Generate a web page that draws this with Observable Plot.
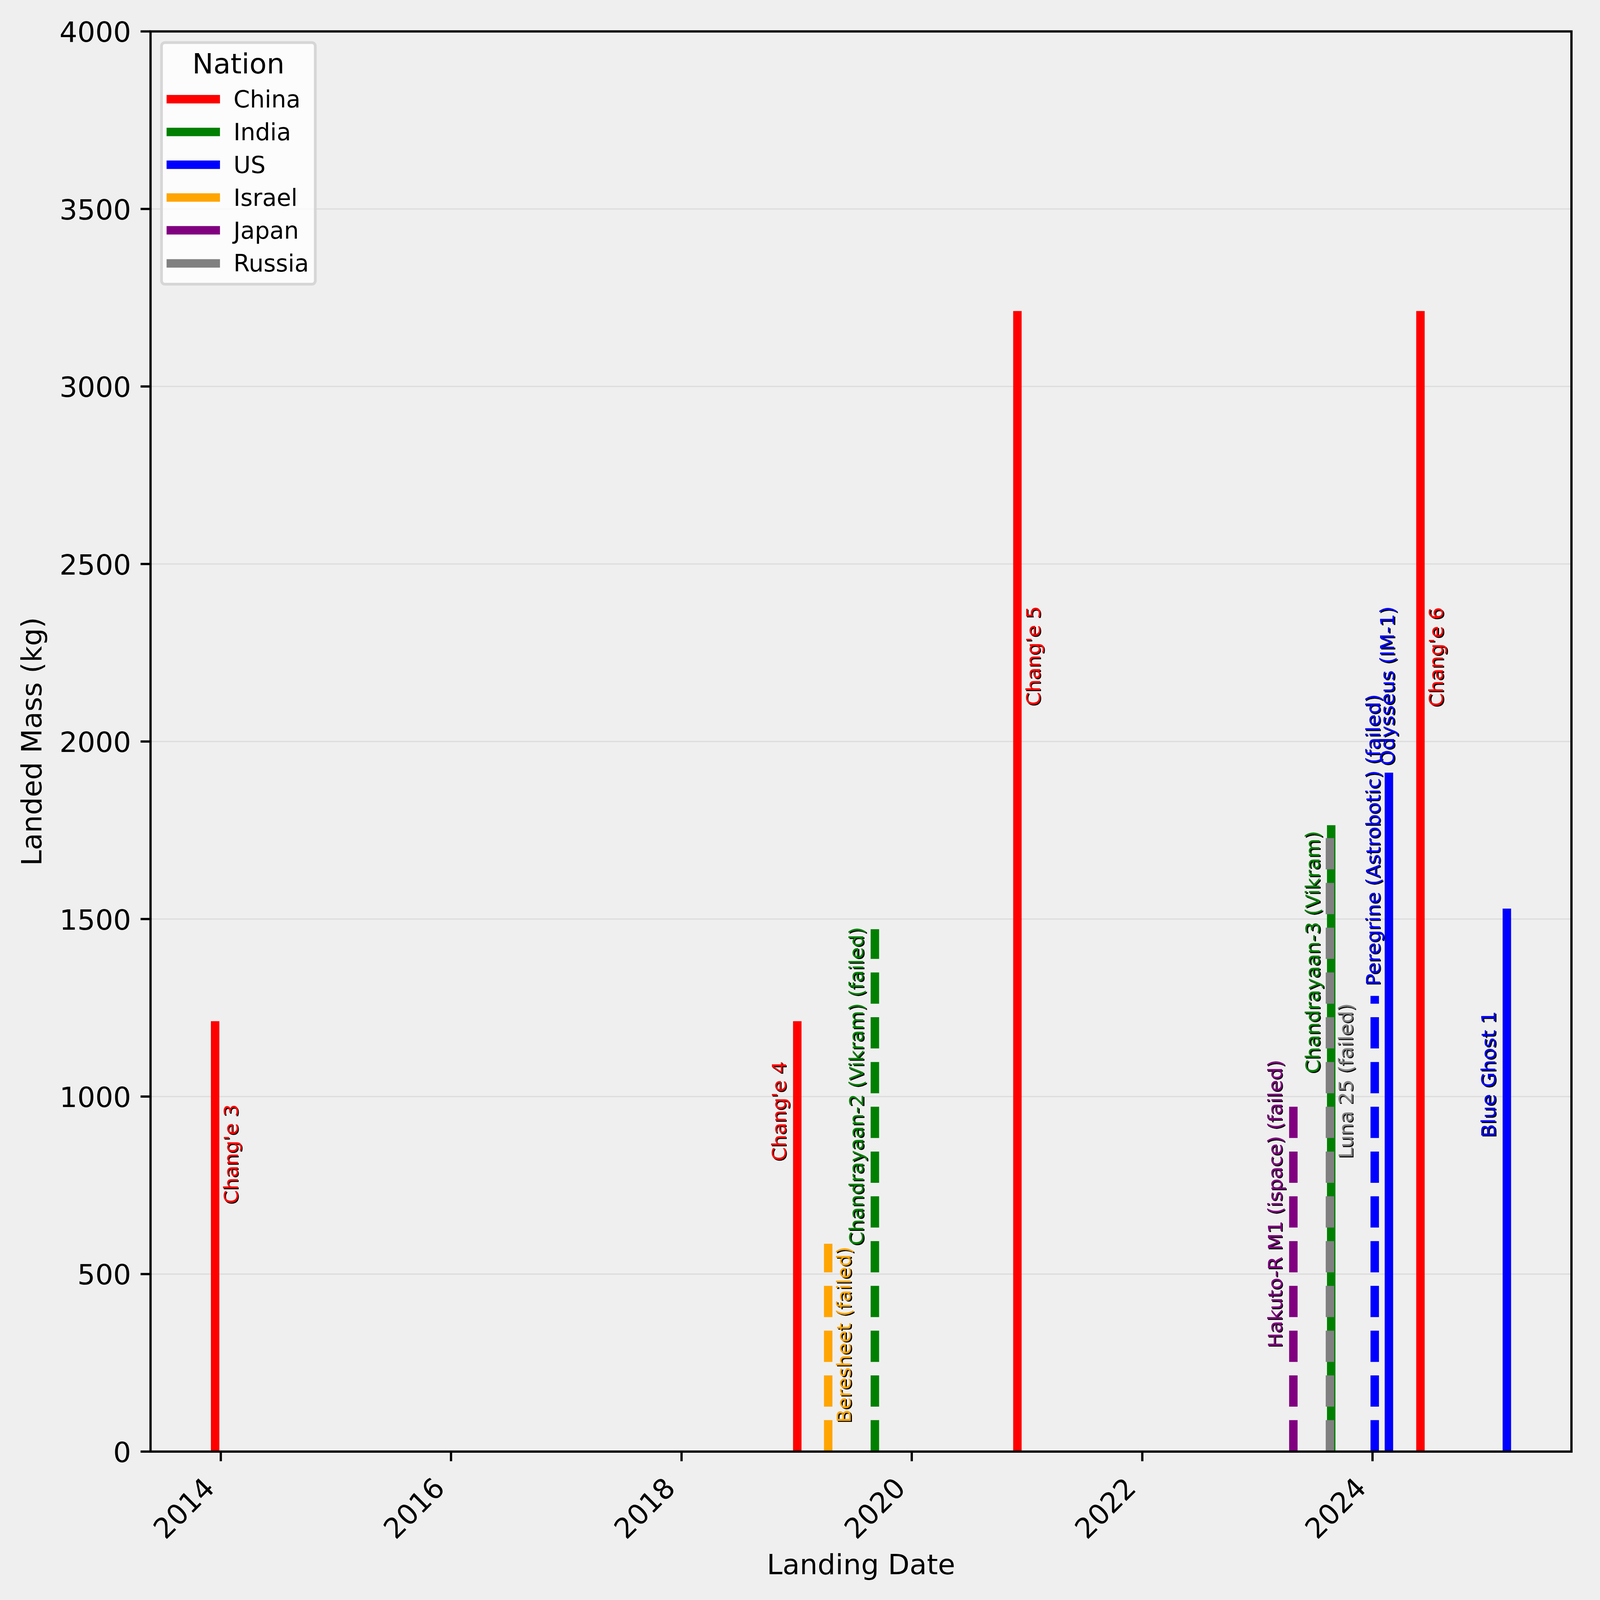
<!DOCTYPE html>
<html>
<head>
<meta charset="utf-8">
<script src="https://cdn.jsdelivr.net/npm/d3@7"></script>
<script src="https://cdn.jsdelivr.net/npm/@observablehq/plot@0.6"></script>
<style>
html, body { margin: 0; padding: 0; background: #efefef; overflow: hidden; }
#wrap { position: absolute; left: 0; top: 0; width: 4713px; height: 4735px; font-family: "DejaVu Sans", sans-serif; color: #000; transform-origin: 0 0; }
#wrap svg { display: block; max-width: none !important; }
.lg-box { position: absolute; box-sizing: border-box; border: 8px solid rgba(204,204,204,0.8); border-radius: 14px; background: rgba(255,255,255,0.8); }
.lg-abs { position: absolute; white-space: nowrap; }
</style>
</head>
<body>
<div id="wrap"></div>
<script>
// ---- data ----
const missions = ["Chang'e 3", "Chang'e 4", "Beresheet", "Chandrayaan-2 (Vikram)", "Chang'e 5",
  "Hakuto-R M1 (ispace)", "Luna 25", "Chandrayaan-3 (Vikram)", "Peregrine (Astrobotic)",
  "Odysseus (IM-1)", "Chang'e 6", "Blue Ghost 1"];
const nations = ["China", "China", "Israel", "India", "China", "Japan", "Russia", "India", "US", "US", "China", "US"];
const landingDates = ["2013-12-14", "2019-01-03", "2019-04-11", "2019-09-06", "2020-12-01", "2023-04-25",
  "2023-08-19", "2023-08-23", "2024-01-08", "2024-02-22", "2024-06-01", "2025-03-02"];
const landedMass = [1200, 1200, 585, 1471, 3200, 1000, 1750, 1752, 1283, 1900, 3200, 1517];
const failedFlag = [false, false, true, true, false, true, true, false, true, false, false, false];
// annotation anchors (kg) and side of the line where each label sits
const labelKg = [698, 819, 81, 581, 2101, 293, 826, 1066, 1313, 1933, 2098, 885];
const labelSide = ["right", "left", "right", "left", "right", "left", "right", "left", "top", "top", "right", "left"];

const nationOrder = ["China", "India", "US", "Israel", "Japan", "Russia"];
const nationColors = ["red", "green", "blue", "orange", "purple", "gray"];
const yTicks = [0, 500, 1000, 1500, 2000, 2500, 3000, 3500, 4000];
const xTickYears = [2014, 2016, 2018, 2020, 2022, 2024];

// ---- build table ----
const rows = missions.map((m, i) => ({
  mission: m,
  nation: nations[i],
  date: new Date(landingDates[i] + "T00:00:00Z"),
  mass: landedMass[i],
  failed: failedFlag[i],
  label: m + (failedFlag[i] ? " (failed)" : ""),
  labelKg: labelKg[i],
  side: labelSide[i]
}));
const ext = d3.extent(rows, d => d.date);
const pad = (ext[1] - ext[0]) * 0.05;
const xDomain = [new Date(+ext[0] - pad), new Date(+ext[1] + pad)];
const xTickDates = xTickYears.map(y => new Date(Date.UTC(y, 0, 1)));

const W = 4713, H = 4735;
const mL = 445, mR = 63, mT = 92.5, mB = 439.7;
const tickFont = 83.3, labelFont = 58.3;
const sideDx = {left: -34, right: 67, top: 15.5};

const labelMarks = [];
for (const s of ["left", "right", "top"]) {
  labelMarks.push(Plot.text(rows, {
    filter: d => d.side === s, x: "date", y: "labelKg", text: "label",
    rotate: -90, textAnchor: "start", lineAnchor: "bottom", fontSize: labelFont,
    fill: "black", dx: sideDx[s] + 3, dy: 3
  }));
  labelMarks.push(Plot.text(rows, {
    filter: d => d.side === s, x: "date", y: "labelKg", text: "label",
    rotate: -90, textAnchor: "start", lineAnchor: "bottom", fontSize: labelFont,
    fill: "nation", dx: sideDx[s], dy: 0
  }));
}

const chart = Plot.plot({
  width: W, height: H,
  marginLeft: mL, marginRight: mR, marginTop: mT, marginBottom: mB,
  style: {background: "#efefef", fontFamily: "DejaVu Sans", color: "black", overflow: "visible"},
  x: {type: "utc", domain: xDomain, axis: null, label: null},
  y: {domain: [0, 4000], axis: null, label: null},
  color: {domain: nationOrder, range: nationColors},
  marks: [
    Plot.ruleY(yTicks, {y: d => d, stroke: "#b0b0b0", strokeOpacity: 0.3, strokeWidth: 3.5}),
    Plot.ruleX(rows, {filter: d => !d.failed, x: "date", y1: 0, y2: "mass", stroke: "nation",
      strokeWidth: 25, strokeLinecap: "square", clip: true}),
    Plot.ruleX(rows, {filter: d => d.failed, x: "date", y1: 0, y2: "mass", stroke: "nation",
      strokeWidth: 25, strokeLinecap: "butt", strokeDasharray: "92.5,40", clip: true}),
    ...labelMarks,
    Plot.axisY({ticks: yTicks, tickSize: 29, tickFormat: () => "", strokeWidth: 6.7, label: null}),
    Plot.text(yTicks, {y: d => d, text: d => String(d), frameAnchor: "left", dx: -57.5, dy: 31,
      textAnchor: "end", lineAnchor: "bottom", fontSize: tickFont, fill: "black"}),
    Plot.axisX({ticks: xTickDates, tickSize: 29, tickFormat: () => "", strokeWidth: 6.7, label: null}),
    Plot.text(xTickDates, {x: d => d, text: d => String(d.getUTCFullYear()), frameAnchor: "bottom",
      dx: -14, dy: 113, rotate: -45, textAnchor: "end", lineAnchor: "bottom", fontSize: tickFont, fill: "black"}),
    Plot.text(["Landed Mass (kg)"], {text: d => d, frameAnchor: "left", dx: -323, rotate: -90,
      textAnchor: "middle", lineAnchor: "bottom", fontSize: tickFont, fill: "black"}),
    Plot.text(["Landing Date"], {text: d => d, frameAnchor: "bottom", dy: 362.7,
      textAnchor: "middle", lineAnchor: "bottom", fontSize: tickFont, fill: "black"}),
    Plot.frame({stroke: "black", strokeWidth: 6.7})
  ]
});

const wrap = document.getElementById("wrap");
wrap.appendChild(chart);

// ---- legend (upper left, inside axes) ----
const lgLeft = 474, lgTop = 122, lgW = 463, lgH = 723;
const box = document.createElement("div");
box.className = "lg-box";
Object.assign(box.style, {left: lgLeft + "px", top: lgTop + "px", width: lgW + "px", height: lgH + "px"});
wrap.appendChild(box);

const asc = 0.928, lh = 1.164;
const title = document.createElement("div");
title.className = "lg-abs";
title.textContent = "Nation";
Object.assign(title.style, {left: lgLeft + "px", width: lgW + "px", textAlign: "center",
  fontSize: tickFont + "px", lineHeight: (tickFont * lh) + "px", top: (218 - asc * tickFont) + "px"});
wrap.appendChild(title);

const entryFont = 69.4, entry0 = 293, entryStep = 97.2;
nationOrder.forEach((n, i) => {
  const cy = entry0 + i * entryStep;
  const sw = document.createElement("div");
  sw.className = "lg-abs";
  Object.assign(sw.style, {left: "493px", width: "158px", height: "25px", top: (cy - 12.5) + "px",
    background: nationColors[i]});
  wrap.appendChild(sw);
  const tx = document.createElement("div");
  tx.className = "lg-abs";
  tx.textContent = n;
  Object.assign(tx.style, {left: "691px", fontSize: entryFont + "px", lineHeight: (entryFont * lh) + "px",
    top: (cy + 25 - asc * entryFont) + "px"});
  wrap.appendChild(tx);
});

// fit the 4713x4735 drawing into the actual viewport
function fit() {
  const vw = document.documentElement.clientWidth || window.innerWidth;
  const vh = document.documentElement.clientHeight || window.innerHeight;
  const s = Math.min(vw / W, vh / H);
  wrap.style.transform = Math.abs(s - 1) < 1e-3 ? "none" : `scale(${s})`;
}
fit();
window.addEventListener("resize", fit);
</script>
</body>
</html>
